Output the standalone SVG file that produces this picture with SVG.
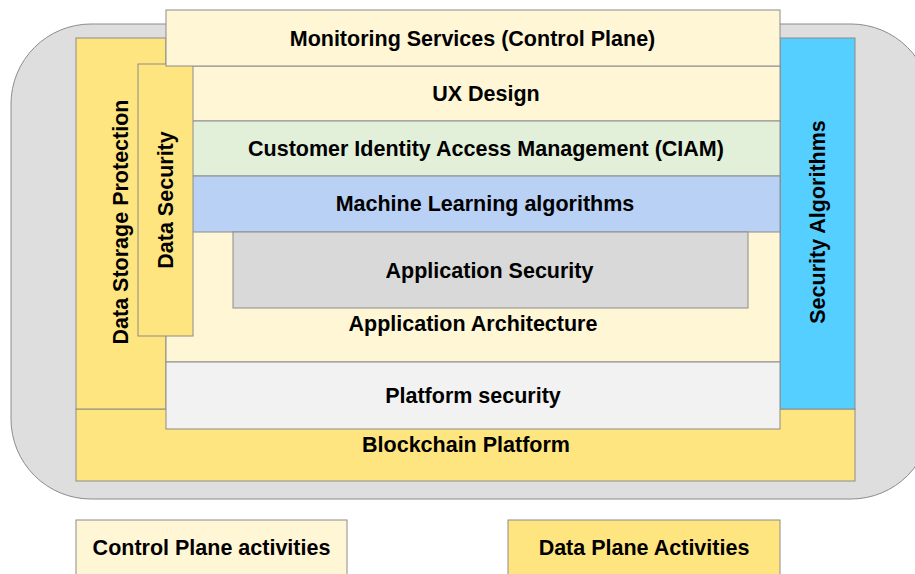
<svg xmlns="http://www.w3.org/2000/svg" width="915" height="574" viewBox="0 0 915 574">
<style>
rect{stroke:#8c8c8c;stroke-width:1}
text{font-family:"Liberation Sans",Arial,sans-serif;font-weight:bold;font-size:21.5px;fill:#000;text-anchor:middle;dominant-baseline:central}
.cp{fill:#FFF6D5}
.dp{fill:#FFE57F}
</style>
<rect x="11" y="24" width="920" height="475" rx="80" ry="80" fill="#DEDEDE" stroke="#a6a6a6"/>
<g id="blockchain"><rect class="dp" x="76" y="409" width="779" height="72"/><text x="466" y="445">Blockchain Platform</text></g>
<g id="datastorage"><rect class="dp" x="76" y="38" width="90" height="371"/><text transform="translate(121,222) rotate(-90)">Data Storage Protection</text></g>
<g id="secalgo"><rect x="780" y="38" width="75" height="371" fill="#55CFFF"/><text transform="translate(818,222) rotate(-90)">Security Algorithms</text></g>
<g id="apparch"><rect class="cp" x="166" y="66" width="614" height="296"/><text x="473" y="324">Application Architecture</text></g>
<g id="ux"><rect class="cp" x="166" y="66" width="614" height="55"/><text x="486" y="94">UX Design</text></g>
<g id="ciam"><rect x="166" y="121" width="614" height="55" fill="#E2F0D9"/><text x="486" y="149">Customer Identity Access Management (CIAM)</text></g>
<g id="ml"><rect x="166" y="176" width="614" height="56" fill="#B9D1F5"/><text x="485" y="204">Machine Learning algorithms</text></g>
<g id="appsec"><rect x="233" y="232" width="515" height="76" fill="#D9D9D9"/><text x="489.5" y="271">Application Security</text></g>
<g id="datasec"><rect class="dp" x="138" y="64" width="55" height="272"/><text transform="translate(166,200) rotate(-90)">Data Security</text></g>
<g id="monitoring"><rect class="cp" x="166" y="10" width="614" height="56"/><text x="472.5" y="39">Monitoring Services (Control Plane)</text></g>
<g id="platsec"><rect x="166" y="362" width="614" height="67" fill="#F2F2F2"/><text x="473" y="396">Platform security</text></g>
<g id="legend-cp"><rect class="cp" x="76" y="520" width="271" height="70"/><text x="211.5" y="548">Control Plane activities</text></g>
<g id="legend-dp"><rect class="dp" x="508" y="520" width="272" height="70"/><text x="644" y="548">Data Plane Activities</text></g>
<g id="connectors"/>
</svg>
